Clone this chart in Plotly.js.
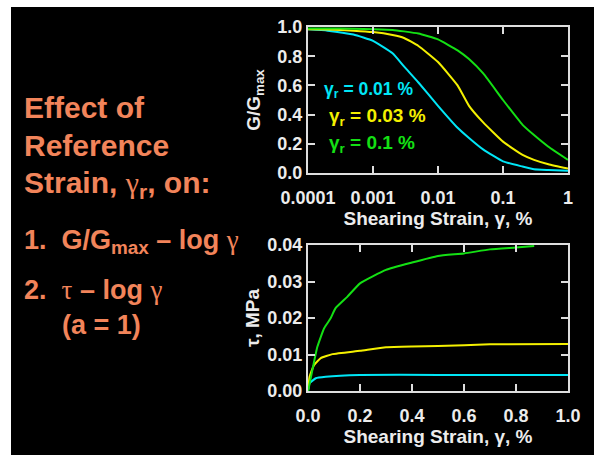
<!DOCTYPE html>
<html><head><meta charset="utf-8">
<script src="https://cdn.plot.ly/plotly-3.0.1.min.js"></script>
<style>html,body{margin:0;padding:0;background:#fff;}#chart{width:594px;height:455px;}</style>
</head><body><div id="chart"></div>
<script>
// ---- Data ----
const strainLog = [0.0001, 0.0002, 0.0005, 0.001, 0.002, 0.003, 0.005, 0.01, 0.02, 0.03, 0.05, 0.1, 0.2, 0.3, 0.5, 1.0];
const ggmaxR001 = [0.984, 0.975, 0.948, 0.905, 0.82, 0.73, 0.62, 0.46, 0.31, 0.24, 0.16, 0.08, 0.044, 0.025, 0.02, 0.015];
const ggmaxR003 = [0.985, 0.983, 0.975, 0.965, 0.945, 0.925, 0.87, 0.76, 0.60, 0.46, 0.345, 0.215, 0.124, 0.09, 0.06, 0.03];
const ggmaxR01  = [0.99, 0.99, 0.988, 0.985, 0.98, 0.97, 0.955, 0.915, 0.84, 0.78, 0.68, 0.50, 0.33, 0.26, 0.18, 0.09];

const strainTauR001 = [0, 0.006, 0.03, 0.068, 0.2, 0.5, 1.0];
const tauR001       = [0, 0.0021, 0.0035, 0.0039, 0.0044, 0.0044, 0.0044];
const strainTauR003 = [0, 0.006, 0.023, 0.049, 0.094, 0.2, 0.3, 0.4, 0.5, 0.7, 1.0];
const tauR003       = [0, 0.0039, 0.0071, 0.009, 0.0101, 0.011, 0.012, 0.0122, 0.0123, 0.0128, 0.0129];
const strainTauR01  = [0, 0.004, 0.017, 0.036, 0.062, 0.087, 0.106, 0.151, 0.2, 0.3, 0.4, 0.5, 0.6, 0.7, 0.8, 0.87];
const tauR01        = [0, 0.0012, 0.0058, 0.0121, 0.0172, 0.0199, 0.0227, 0.0258, 0.0295, 0.0332, 0.0352, 0.037, 0.0377, 0.0388, 0.0393, 0.0397];

const logTickVals = [0.0001, 0.001, 0.01, 0.1, 1];
const logTickText = ['0.0001', '0.001', '0.01', '0.1', '1'];

// subscript drawn with a font-size change + baseline shift
const SUB = s => '<span style="font-size:70%;baseline-shift:-28%">' + s + '</span>';
const SG = s => '<span style="font-family:Liberation Serif, Times New Roman, serif;font-weight:normal">' + s + '</span>';
const seriesLabels = ['γ' + SUB('r') + ' = 0.01 %', 'γ' + SUB('r') + ' = 0.03 %', 'γ' + SUB('r') + ' = 0.1 %'];
const leftLines = ['Effect of', 'Reference', 'Strain, ' + SG('γ') + SUB('r') + ', on:',
  '1.  G/G' + SUB('max') + ' – log ' + SG('γ'), '2.  ' + SG('τ') + ' – log ' + SG('γ'), '(a = 1)'];

// ---- Styling ----
const W = 594, H = 455;
const px = v => v / W, py = v => 1 - v / H;
const cCyan = '#00E6F6', cYellow = '#F4F000', cGreen = '#14E014', cOrange = '#F2845A';
const FONT = 'Liberation Sans, Arial, Helvetica, sans-serif';
const frame = '#dedede';

function ln(x, y, color, xa, ya) {
  return {x: x, y: y, type: 'scatter', mode: 'lines', xaxis: xa, yaxis: ya,
          line: {color: color, width: 2, shape: 'spline', smoothing: 0.4}, hoverinfo: 'skip', showlegend: false};
}
const data = [
  ln(strainLog, ggmaxR001, cCyan, 'x', 'y'),
  ln(strainLog, ggmaxR003, cYellow, 'x', 'y'),
  ln(strainLog, ggmaxR01, cGreen, 'x', 'y'),
  ln(strainTauR001, tauR001, cCyan, 'x2', 'y2'),
  ln(strainTauR003, tauR003, cYellow, 'x2', 'y2'),
  ln(strainTauR01, tauR01, cGreen, 'x2', 'y2')
];

const tickFont = {family: FONT, size: 18, color: '#ececec', weight: 'bold'};
const titleFont = {family: FONT, size: 19, color: '#ececec', weight: 'bold'};
const axBase = {showline: true, linecolor: frame, linewidth: 2, mirror: 'ticks', ticks: 'inside',
  ticklen: 7, tickwidth: 2, tickcolor: frame, showgrid: false, zeroline: false, tickfont: tickFont, fixedrange: true};

const annos = [];
const labelColors = [cCyan, cYellow, cGreen];
const labelPos = [[322, 90], [327, 117], [327, 144]];
const labelSize = [17.5, 19, 19];
seriesLabels.forEach((t, i) => annos.push({text: t, xref: 'paper', yref: 'paper', x: px(labelPos[i][0]), y: py(labelPos[i][1]),
  xanchor: 'left', yanchor: 'middle', showarrow: false, font: {family: FONT, size: labelSize[i], color: labelColors[i], weight: 'bold'}}));
const leftPos = [[22, 107], [22, 145], [22, 184], [22, 241], [22, 290], [60, 325]];
const leftSize = [30, 30, 30, 27, 27, 27];
leftLines.forEach((t, i) => annos.push({text: t, xref: 'paper', yref: 'paper', x: px(leftPos[i][0]), y: py(leftPos[i][1]),
  xanchor: 'left', yanchor: 'middle', showarrow: false, font: {family: FONT, size: leftSize[i], color: cOrange, weight: 'bold'}}));

const layout = {
  width: W, height: H, margin: {l: 0, r: 0, t: 0, b: 0},
  paper_bgcolor: '#ffffff', plot_bgcolor: '#000000', showlegend: false,
  shapes: [{type: 'rect', xref: 'paper', yref: 'paper', x0: px(11), x1: 1, y0: 0, y1: py(7),
            fillcolor: '#000000', line: {width: 0}, layer: 'below'}],
  xaxis: Object.assign({}, axBase, {domain: [px(308), px(568)], anchor: 'y', type: 'log', range: [-4, 0],
    tickvals: logTickVals, ticktext: logTickText, ticklabelstandoff: 7,
    title: {text: 'Shearing Strain, γ, %', font: titleFont, standoff: 0}}),
  yaxis: Object.assign({}, axBase, {domain: [py(173), py(27)], anchor: 'x', range: [0, 1], dtick: 0.2, tickformat: '.1f',
    title: {text: 'G/G' + SUB('max'), font: titleFont, standoff: 12}}),
  xaxis2: Object.assign({}, axBase, {domain: [px(308), px(568)], anchor: 'y2', range: [0, 1], dtick: 0.2, tickformat: '.1f',
    ticklabelstandoff: 7, title: {text: 'Shearing Strain, γ, %', font: titleFont, standoff: 2}}),
  yaxis2: Object.assign({}, axBase, {domain: [py(391), py(245)], anchor: 'x2', range: [0, 0.04], dtick: 0.01, tickformat: '.2f',
    title: {text: 'τ, MPa', font: titleFont, standoff: 3}}),
  annotations: annos
};
Plotly.newPlot('chart', data, layout, {staticPlot: true, displayModeBar: false});
</script></body></html>
